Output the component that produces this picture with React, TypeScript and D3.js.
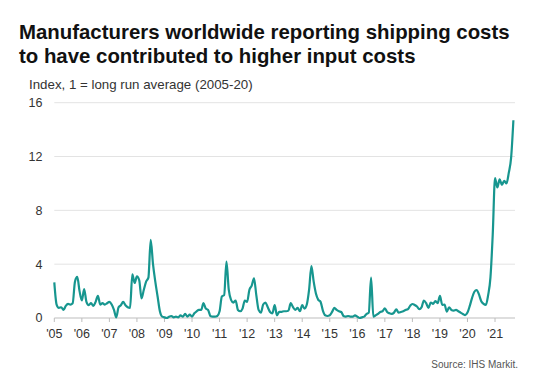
import React from "react";
import * as d3 from "d3";

// Monthly index values, Jan 2005 – Sep 2021 (1 = long run average 2005-20)
const startYear = 2005;
const monthlyIndex: number[] = [
  // 2005
  2.65, 1.0, 0.75, 0.8, 0.6, 0.9, 1.05, 1.0, 1.1, 2.7, 3.05, 2.0,
  // 2006
  1.3, 2.15, 1.2, 0.95, 1.1, 0.9, 1.2, 1.65, 1.0, 1.1, 1.0, 1.1,
  // 2007
  1.2, 1.0, 0.6, 0.05, 0.8, 0.95, 1.2, 0.95, 0.8, 0.75, 3.25, 2.6,
  // 2008
  3.1, 2.8, 1.45, 2.1, 2.7, 3.0, 5.8, 4.0, 2.7, 1.6, 0.5, 0.1,
  // 2009
  0.05, 0.0, 0.1, 0.15, 0.05, 0.1, 0.05, 0.2, 0.1, 0.3, 0.1, 0.25,
  // 2010
  0.1, 0.35, 0.5, 0.6, 0.6, 1.1, 0.7, 0.6, 0.15, 0.1, 0.1, 0.15,
  // 2011
  0.5, 1.6, 1.7, 4.2, 2.1, 1.35, 1.15, 1.3, 0.6, 0.5, 0.7, 1.3,
  // 2012
  1.2, 2.1, 2.4, 2.95, 1.7, 0.6, 0.4, 1.0, 1.15, 0.8, 0.45, 0.35,
  // 2013
  0.95, 0.2, 0.45, 0.45, 0.5, 0.5, 0.55, 1.1, 0.8, 0.6, 0.75, 0.5,
  // 2014
  0.95, 0.7, 1.0, 2.1, 3.85, 2.7, 1.8, 1.35, 1.2, 0.55, 0.2, 0.15,
  // 2015
  0.2, 0.45, 0.75, 0.6, 0.5, 0.45, 0.15, 0.1, 0.15, 0.1, 0.1, 0.2,
  // 2016
  0.1, 0.0, 0.05, 0.1, 0.3, 0.4, 3.0, 0.1, 0.2, 0.3, 0.45, 0.5,
  // 2017
  0.72, 0.45, 0.35, 0.3, 0.4, 0.65, 0.4, 0.45, 0.5, 0.6, 0.65, 0.9,
  // 2018
  1.04, 0.97, 0.85, 0.65, 0.8, 1.3, 1.1, 0.75, 1.15, 1.05, 1.25, 1.1,
  // 2019
  1.64, 0.97, 1.0, 0.47, 0.8, 0.6, 0.55, 0.6, 0.5, 0.4, 0.3, 0.22,
  // 2020
  0.4, 0.9, 1.5, 1.95, 2.08, 1.75, 1.25, 1.05, 0.97, 1.7, 3.0, 6.2,
  // 2021
  10.4, 9.7, 10.3, 9.9, 10.2, 10.0, 10.8, 11.9, 14.7,
];

const yearTicks: number[] = d3.range(2005, 2022);
const yearTickLabels: string[] = yearTicks.map((y) => "'" + String(y).slice(2));
const yTicks: number[] = [0, 4, 8, 12, 16];

const titleLines = [
  "Manufacturers worldwide reporting shipping costs",
  "to have contributed to higher input costs",
];
const subtitle = "Index, 1 = long run average (2005-20)";
const source = "Source: IHS Markit.";

const W = 551;
const H = 384;
const FONT = "'Liberation Sans', Arial, Helvetica, sans-serif";

export default function App() {
  const x = d3.scaleLinear().domain([2005, 2021.725]).range([54.3, 515]);
  const y = d3.scaleLinear().domain([0, 16]).range([318, 102.7]);

  const pts = monthlyIndex.map((v, i) => ({ t: startYear + i / 12, v }));
  const line = d3
    .line<{ t: number; v: number }>()
    .x((d) => x(d.t))
    .y((d) => y(d.v))
    .curve(d3.curveMonotoneX);

  return (
    <svg
      width={W}
      height={H}
      style={{ position: "absolute", left: 0, top: 0, background: "#fff" }}
      fontFamily={FONT}
    >
      {titleLines.map((t, i) => (
        <text key={i} x={19} y={39 + i * 24.3} fontSize={20.4} fontWeight="bold" fill="#111">
          {t}
        </text>
      ))}
      <text x={29} y={89} fontSize={13.3} fill="#333">
        {subtitle}
      </text>

      {yTicks.map((t) => (
        <g key={t}>
          {t > 0 && (
            <line x1={x(2005)} x2={515} y1={y(t)} y2={y(t)} stroke="#e3e3e3" strokeWidth={1} />
          )}
          <text x={42.5} y={y(t)} dy="0.35em" textAnchor="end" fontSize={12.5} fill="#333">
            {t}
          </text>
        </g>
      ))}

      <line x1={x(2005)} x2={515} y1={y(0)} y2={y(0)} stroke="#bdbdbd" strokeWidth={1} />
      {yearTicks.map((yr, i) => (
        <g key={yr}>
          <line x1={x(yr)} x2={x(yr)} y1={y(0)} y2={y(0) + 4} stroke="#bdbdbd" strokeWidth={1} />
          <text x={x(yr)} y={337.5} textAnchor="middle" fontSize={12.5} fill="#333">
            {yearTickLabels[i]}
          </text>
        </g>
      ))}

      <path d={line(pts) || ""} fill="none" stroke="#17968f" strokeWidth={2.2} strokeLinejoin="round" />

      <text x={518} y={367.5} textAnchor="end" fontSize={10} fill="#555">
        {source}
      </text>
    </svg>
  );
}
